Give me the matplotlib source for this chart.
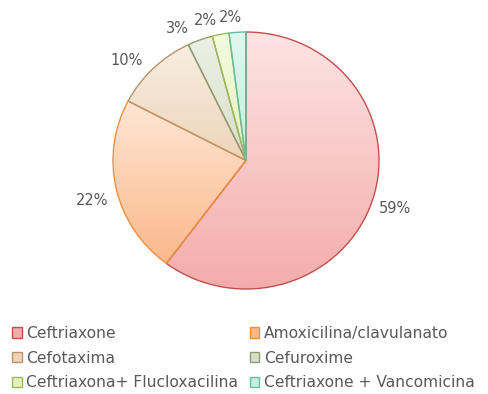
import numpy as np
import matplotlib
matplotlib.use("Agg")
import matplotlib.pyplot as plt
from matplotlib.colors import LinearSegmentedColormap
from matplotlib.patches import Patch

# Antibióticos y porcentajes
farmacos = ["Ceftriaxone", "Amoxicilina/clavulanato", "Cefotaxima",
            "Cefuroxime", "Ceftriaxona+ Flucloxacilina", "Ceftriaxone + Vancomicina"]
porcentajes = [59, 22, 10, 3, 2, 2]

# Colores: arriba, abajo, borde
color_arriba = ["#FDE4E3", "#FFE6D6", "#F8EEE3", "#ECF0E5", "#F5FAE0", "#DFF8EF"]
color_abajo = ["#F3ACAB", "#FBB98A", "#EDD4B8", "#D8DFC9", "#E4F1BC", "#C3EFDD"]
color_borde = ["#C0504D", "#F0903F", "#B8936C", "#8E9C70", "#9BBB59", "#62C0A0"]
color_texto = "#595959"

W, H = 489, 394
fig = plt.figure(figsize=(W / 100, H / 100), dpi=100)
ax = fig.add_axes([0, 0, 1, 1])

# el círculo queda algo achatado en vertical
esc_y = 133 / 128.5
radio = 133
centro = (246, (H - 160.5) * esc_y)

wedges, _ = ax.pie(porcentajes, center=centro, radius=radio, startangle=90,
                   counterclock=False, frame=True,
                   wedgeprops=dict(linewidth=1.0))

# Relleno degradado vertical de cada porción
for i, w in enumerate(wedges):
    w.set_facecolor("none")
    w.set_edgecolor(color_borde[i])
    w.set_zorder(3)
    ext = w.get_path().get_extents()
    cmap = LinearSegmentedColormap.from_list("g%d" % i, [color_abajo[i], color_arriba[i]])
    grad = np.linspace(0, 1, 256).reshape(-1, 1)
    img = ax.imshow(grad, cmap=cmap, origin="lower", aspect="auto",
                    extent=[ext.x0, ext.x1, ext.y0, ext.y1], zorder=2,
                    interpolation="bilinear")
    img.set_clip_path(w)

ax.set_aspect("auto")
ax.set_xlim(0, W)
ax.set_ylim(0, H * esc_y)
ax.axis("off")

# Etiquetas de porcentaje fuera del círculo (las pequeñas se separan un poco)
distancias = [1.18, 1.2, 1.19, 1.15, 1.13, 1.12]
desplazamiento = [0, 2, 5, 6.5, 4.6, 2.2]
for i, w in enumerate(wedges):
    ang = np.deg2rad((w.theta1 + w.theta2) / 2 + desplazamiento[i])
    d = radio * distancias[i]
    x = centro[0] + d * np.cos(ang)
    y = centro[1] + d * np.sin(ang)
    ax.text(x, y, "%d%%" % porcentajes[i], ha="center", va="center",
            fontsize=10.5, color=color_texto)

handles = [Patch(facecolor=color_abajo[i], edgecolor=color_borde[i], label=farmacos[i])
           for i in range(len(farmacos))]
# orden por filas en dos columnas
orden = [0, 2, 4, 1, 3, 5]
leg = fig.legend([handles[k] for k in orden], [farmacos[k] for k in orden],
                 loc="upper left", bbox_to_anchor=(12 / W, 1 - 326 / H), ncol=2,
                 frameon=False, fontsize=11.2, handlelength=0.63, handleheight=0.63,
                 handletextpad=0.3, columnspacing=0.72, labelspacing=0.62,
                 borderpad=0, borderaxespad=0)
for t in leg.get_texts():
    t.set_color(color_texto)

fig.savefig("out.png", dpi=100)
